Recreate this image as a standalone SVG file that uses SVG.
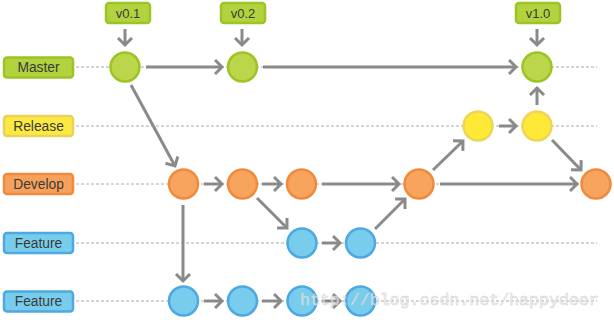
<svg xmlns="http://www.w3.org/2000/svg" width="614" height="320" viewBox="0 0 614 320">
<defs>
<marker id="ah" markerUnits="userSpaceOnUse" markerWidth="14" markerHeight="20" refX="8" refY="8" orient="auto" viewBox="0 0 14 16">
<path d="M1,1 L8,8 L1,15" fill="none" stroke="#8a8a8a" stroke-width="3"/>
</marker>
<style>
.lab{font-family:"Liberation Sans",Arial,sans-serif;font-size:13.8px;fill:#3a3a3a;text-anchor:middle}
.tag{font-family:"Liberation Sans",Arial,sans-serif;font-size:13px;fill:#3a3a3a;text-anchor:middle}
.dash{stroke:#aaa;stroke-width:1;stroke-dasharray:3,2;fill:none}
.c{stroke:#8a8a8a;stroke-width:3;fill:none;marker-end:url(#ah)}
.g{fill:#bcd64c;stroke:#9cc424;stroke-width:2.5}
.y{fill:#fde936;stroke:#efd45a;stroke-width:2.5}
.o{fill:#f7a45f;stroke:#f08b3d;stroke-width:2.5}
.b{fill:#79cdec;stroke:#4ea8e2;stroke-width:2.5}
.gl{fill:#b2d23e;stroke:#9cc424;stroke-width:2.5}
.yl{fill:#fce942;stroke:#ead25a;stroke-width:2.5}
.ol{fill:#f6a15b;stroke:#f08b3d;stroke-width:2.5}
.bl{fill:#79cdec;stroke:#4ea8e2;stroke-width:2.5}
</style>
</defs>
<g id="lanes">
<line class="dash" x1="76" y1="67" x2="597" y2="67"/>
<line class="dash" x1="76" y1="126" x2="597" y2="126"/>
<line class="dash" x1="76" y1="184" x2="597" y2="184"/>
<line class="dash" x1="76" y1="243" x2="597" y2="243"/>
<line class="dash" x1="76" y1="301" x2="597" y2="301"/>
</g>
<g id="label-master"><rect class="gl" x="4" y="57.5" width="69" height="20" rx="3"/><text class="lab" x="38.5" y="72.3">Master</text></g>
<g id="label-release"><rect class="yl" x="4" y="116" width="69" height="20" rx="3"/><text class="lab" x="38.5" y="130.8">Release</text></g>
<g id="label-develop"><rect class="ol" x="4" y="174" width="69" height="20" rx="3"/><text class="lab" x="38.5" y="188.8">Develop</text></g>
<g id="label-feature1"><rect class="bl" x="4" y="233" width="69" height="20" rx="3"/><text class="lab" x="38.5" y="247.8">Feature</text></g>
<g id="label-feature2"><rect class="bl" x="4" y="291.5" width="69" height="20" rx="3"/><text class="lab" x="38.5" y="306.3">Feature</text></g>
<g id="tag-v01"><rect class="gl" x="106" y="3" width="44" height="20" rx="3"/><text class="tag" x="128" y="17.5">v0.1</text></g>
<g id="tag-v02"><rect class="gl" x="221" y="3" width="44" height="20" rx="3"/><text class="tag" x="243" y="17.5">v0.2</text></g>
<g id="tag-v10"><rect class="gl" x="516" y="3" width="44" height="20" rx="3"/><text class="tag" x="538" y="17.5">v1.0</text></g>
<g id="connectors">
<line class="c" x1="125" y1="29" x2="125" y2="45"/>
<line class="c" x1="242" y1="29" x2="242" y2="45"/>
<line class="c" x1="537" y1="29" x2="537" y2="45"/>
<line class="c" x1="146" y1="67" x2="222" y2="67"/>
<line class="c" x1="263" y1="67" x2="516" y2="67"/>
<line class="c" x1="131" y1="85" x2="175" y2="166"/>
<line class="c" x1="204" y1="184" x2="222" y2="184"/>
<line class="c" x1="262" y1="184" x2="281" y2="184"/>
<line class="c" x1="322" y1="184" x2="399" y2="184"/>
<line class="c" x1="440" y1="184" x2="577" y2="184"/>
<line class="c" x1="257" y1="198" x2="287" y2="228"/>
<line class="c" x1="183" y1="205" x2="183" y2="281"/>
<line class="c" x1="204" y1="301" x2="222" y2="301"/>
<line class="c" x1="262" y1="301" x2="281" y2="301"/>
<line class="c" x1="322" y1="301" x2="340" y2="301"/>
<line class="c" x1="322" y1="243" x2="340" y2="243"/>
<line class="c" x1="375" y1="229" x2="405" y2="199"/>
<line class="c" x1="433" y1="170" x2="463" y2="141"/>
<line class="c" x1="499" y1="126" x2="516" y2="126"/>
<line class="c" x1="552" y1="140" x2="581" y2="170"/>
<line class="c" x1="537" y1="105" x2="537" y2="88"/>
</g>
<g id="m1"><circle class="g" cx="125" cy="67" r="14.5"/></g>
<g id="m2"><circle class="g" cx="242.5" cy="67" r="14.5"/></g>
<g id="m3"><circle class="g" cx="537" cy="67" r="14.5"/></g>
<g id="r1"><circle class="y" cx="478" cy="126" r="14.5"/></g>
<g id="r2"><circle class="y" cx="537" cy="126" r="14.5"/></g>
<g id="d1"><circle class="o" cx="183.5" cy="184" r="14.5"/></g>
<g id="d2"><circle class="o" cx="242.5" cy="184" r="14.5"/></g>
<g id="d3"><circle class="o" cx="301.5" cy="184" r="14.5"/></g>
<g id="d4"><circle class="o" cx="419" cy="184" r="14.5"/></g>
<g id="d5"><circle class="o" cx="596" cy="184" r="14.5"/></g>
<g id="f1a"><circle class="b" cx="302" cy="243" r="14.5"/></g>
<g id="f1b"><circle class="b" cx="360.5" cy="243" r="14.5"/></g>
<g id="f2a"><circle class="b" cx="183.5" cy="301" r="14.5"/></g>
<g id="f2b"><circle class="b" cx="242.5" cy="301" r="14.5"/></g>
<g id="f2c"><circle class="b" cx="302" cy="301" r="14.5"/></g>
<g id="f2d"><circle class="b" cx="360.5" cy="301" r="14.5"/></g>
<text x="300" y="305" font-family="'Liberation Mono','Courier New',monospace" font-size="16.6" fill="#f2f2f2" fill-opacity="0.6" stroke="#cfcfcf" stroke-width="0.5">http://blog.csdn.net/happydeer</text>
</svg>
